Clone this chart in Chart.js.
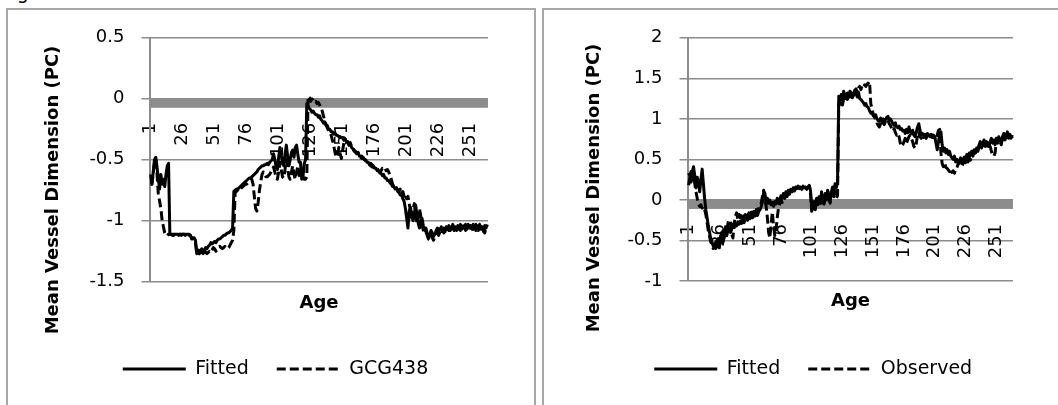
<!DOCTYPE html>
<html lang="en">
<head>
<meta charset="utf-8">
<title>Mean Vessel Dimension</title>
<script src="https://cdn.jsdelivr.net/npm/chart.js@4.4.1/dist/chart.umd.min.js"></script>
<style>
  html, body { margin: 0; padding: 0; background: #fff; }
  body { position: relative; width: 1058px; height: 405px; overflow: hidden; font-family: "DejaVu Sans", sans-serif; }
  .caption { position: absolute; left: 2px; top: -17px; font-size: 19px; line-height: 19px; color: #000; white-space: nowrap; }
  .panel { position: absolute; top: 8px; height: 430px; border: 2px solid #a8a8a8; box-sizing: border-box; }
  .chart-box { position: absolute; top: 10px; height: 395px; }
</style>
</head>
<body>
<div class="caption">Figure</div>
<div class="panel" style="left: 6px; width: 530px;"></div>
<div class="panel" style="left: 542px; width: 560px;"></div>
<div class="chart-box" style="left: 9px; width: 524px;"><canvas id="leftChart"></canvas></div>
<div class="chart-box" style="left: 545px; width: 513px;"><canvas id="rightChart"></canvas></div>
<script>
/* Ages on the category axis, and the ones that get a label. */
const ages = Array.from({ length: 264 }, (_, i) => i + 1)
const tickAges = [1, 26, 51, 76, 101, 126, 151, 176, 201, 226, 251]

/* Value ranges of the two panels. */
const leftRange = [-1.5, 0.5]
const rightRange = [-1, 2]

/* Left panel: fitted curve. */
const leftFitted = [
  -0.62, -0.70, -0.60, -0.50, -0.48, -0.56, -0.66, -0.74, -0.62, -0.70,
  -0.66, -0.72, -0.62, -0.55, -0.53, -1.11, -1.11, -1.11, -1.12, -1.11,
  -1.11, -1.11, -1.12, -1.11, -1.11, -1.11, -1.11, -1.12, -1.11, -1.11,
  -1.11, -1.12, -1.14, -1.15, -1.14, -1.16, -1.27, -1.24, -1.27, -1.25,
  -1.23, -1.27, -1.24, -1.22, -1.23, -1.21, -1.20, -1.18, -1.19, -1.18,
  -1.17, -1.18, -1.16, -1.15, -1.15, -1.14, -1.13, -1.12, -1.12, -1.11,
  -1.10, -1.10, -1.09, -1.08, -1.06, -0.76, -0.75, -0.74, -0.74, -0.73,
  -0.72, -0.71, -0.70, -0.69, -0.68, -0.67, -0.66, -0.65, -0.65, -0.64,
  -0.63, -0.62, -0.61, -0.60, -0.58, -0.57, -0.56, -0.55, -0.55, -0.54,
  -0.54, -0.53, -0.54, -0.52, -0.51, -0.50, -0.45, -0.50, -0.56, -0.58,
  -0.48, -0.40, -0.46, -0.52, -0.55, -0.45, -0.38, -0.47, -0.55, -0.50,
  -0.44, -0.42, -0.48, -0.40, -0.38, -0.46, -0.52, -0.52, -0.66, -0.64,
  -0.53, -0.50, -0.04, -0.06, -0.08, -0.09, -0.11, -0.10, -0.12, -0.13,
  -0.13, -0.15, -0.14, -0.17, -0.18, -0.20, -0.19, -0.22, -0.22, -0.25,
  -0.25, -0.27, -0.27, -0.29, -0.28, -0.30, -0.30, -0.31, -0.31, -0.32,
  -0.32, -0.34, -0.33, -0.35, -0.35, -0.38, -0.36, -0.40, -0.41, -0.43,
  -0.43, -0.45, -0.44, -0.47, -0.47, -0.49, -0.48, -0.50, -0.50, -0.52,
  -0.52, -0.54, -0.53, -0.56, -0.55, -0.57, -0.57, -0.59, -0.59, -0.61,
  -0.61, -0.63, -0.62, -0.65, -0.65, -0.67, -0.67, -0.69, -0.70, -0.72,
  -0.72, -0.74, -0.73, -0.76, -0.77, -0.79, -0.79, -0.82, -0.84, -0.90,
  -0.98, -1.06, -0.92, -0.89, -0.96, -1.00, -0.94, -0.87, -0.95, -1.02,
  -1.06, -1.00, -0.98, -1.04, -1.08, -1.06, -1.10, -1.14, -1.12, -1.08,
  -1.10, -1.13, -1.11, -1.08, -1.06, -1.09, -1.07, -1.05, -1.08, -1.06,
  -1.09, -1.05, -1.07, -1.04, -1.08, -1.06, -1.03, -1.07, -1.05, -1.08,
  -1.04, -1.06, -1.03, -1.07, -1.05, -1.04, -1.08, -1.05, -1.03, -1.06,
  -1.04, -1.07, -1.03, -1.05, -1.08, -1.04, -1.06, -1.03, -1.07, -1.05,
  -1.09, -1.04, -1.06, -1.03
]

/* Left panel: GCG438 series. */
const gcg438 = [
  -0.70, -0.70, -0.62, -0.52, -0.50, -0.62, -0.78, -0.84, -0.90, -1.00,
  -1.05, -1.10, -1.12, -1.12, -1.11, -1.11, -1.11, -1.12, -1.11, -1.11,
  -1.11, -1.12, -1.11, -1.11, -1.12, -1.11, -1.11, -1.11, -1.12, -1.11,
  -1.12, -1.12, -1.15, -1.14, -1.16, -1.18, -1.26, -1.25, -1.27, -1.24,
  -1.26, -1.27, -1.24, -1.26, -1.27, -1.26, -1.25, -1.26, -1.24, -1.22,
  -1.23, -1.25, -1.24, -1.22, -1.21, -1.22, -1.23, -1.22, -1.21, -1.22,
  -1.23, -1.22, -1.20, -1.18, -1.16, -1.08, -0.77, -0.76, -0.75, -0.76,
  -0.74, -0.73, -0.72, -0.71, -0.70, -0.70, -0.69, -0.68, -0.67, -0.66,
  -0.70, -0.80, -0.90, -0.92, -0.85, -0.75, -0.68, -0.62, -0.60, -0.62,
  -0.64, -0.64, -0.63, -0.62, -0.60, -0.58, -0.56, -0.60, -0.65, -0.66,
  -0.60, -0.52, -0.58, -0.64, -0.65, -0.58, -0.50, -0.57, -0.64, -0.66,
  -0.60, -0.55, -0.62, -0.66, -0.60, -0.55, -0.62, -0.66, -0.66, -0.64,
  -0.66, -0.66, -0.64, 0.02, 0.01, -0.02, 0.00, -0.01, -0.03, -0.02,
  -0.04, -0.03, -0.05, -0.07, -0.10, -0.14, -0.18, -0.21, -0.24, -0.26,
  -0.28, -0.30, -0.34, -0.38, -0.44, -0.48, -0.46, -0.40, -0.45, -0.49,
  -0.42, -0.36, -0.34, -0.35, -0.36, -0.38, -0.37, -0.39, -0.41, -0.42,
  -0.44, -0.45, -0.44, -0.46, -0.48, -0.47, -0.49, -0.50, -0.51, -0.52,
  -0.52, -0.54, -0.55, -0.54, -0.56, -0.57, -0.58, -0.57, -0.59, -0.60,
  -0.59, -0.57, -0.58, -0.57, -0.59, -0.58, -0.60, -0.63, -0.66, -0.70,
  -0.72, -0.74, -0.73, -0.75, -0.76, -0.74, -0.78, -0.76, -0.80, -0.78,
  -0.82, -0.80, -0.86, -0.92, -0.98, -0.90, -0.86, -0.94, -1.02, -0.98,
  -0.90, -0.96, -1.04, -1.08, -1.10, -1.09, -1.12, -1.15, -1.16, -1.12,
  -1.14, -1.16, -1.13, -1.12, -1.10, -1.12, -1.09, -1.11, -1.08, -1.10,
  -1.07, -1.09, -1.06, -1.08, -1.05, -1.07, -1.05, -1.08, -1.06, -1.04,
  -1.07, -1.05, -1.08, -1.04, -1.06, -1.05, -1.03, -1.07, -1.05, -1.04,
  -1.06, -1.04, -1.07, -1.05, -1.03, -1.06, -1.08, -1.04, -1.05, -1.07,
  -1.05, -1.10, -1.05, -1.04
]

/* Right panel: fitted curve. */
const rightFitted = [
  0.18, 0.28, 0.22, 0.35, 0.41, 0.30, 0.15, 0.28, 0.22, 0.10,
  0.25, 0.38, 0.20, 0.02, -0.12, -0.22, -0.32, -0.40, -0.48, -0.52,
  -0.57, -0.55, -0.60, -0.50, -0.56, -0.59, -0.45, -0.40, -0.52, -0.45,
  -0.38, -0.44, -0.37, -0.33, -0.40, -0.36, -0.30, -0.34, -0.29, -0.32,
  -0.27, -0.30, -0.26, -0.29, -0.25, -0.28, -0.24, -0.22, -0.25, -0.21,
  -0.23, -0.19, -0.22, -0.18, -0.20, -0.16, -0.19, -0.14, -0.12, -0.08,
  -0.02, 0.10, 0.08, -0.05, 0.02, -0.04, 0.00, -0.06, -0.03, -0.08,
  -0.02, -0.05, 0.02, -0.04, 0.00, 0.05, 0.02, 0.08, 0.04, 0.10,
  0.06, 0.12, 0.09, 0.13, 0.11, 0.15, 0.12, 0.16, 0.14, 0.17,
  0.15, 0.16, 0.14, 0.17, 0.15, 0.16, 0.14, 0.16, 0.18, 0.12,
  -0.12, -0.08, -0.02, -0.10, 0.02, -0.06, 0.04, -0.04, 0.10, 0.00,
  -0.05, 0.08, 0.02, 0.12, 0.04, -0.02, 0.10, 0.16, 0.08, 0.20,
  0.15, 0.22, 1.28, 1.20, 1.30, 1.24, 1.34, 1.28, 1.25, 1.32,
  1.27, 1.34, 1.30, 1.26, 1.29, 1.35, 1.31, 1.27, 1.33, 1.25,
  1.24, 1.22, 1.20, 1.17, 1.19, 1.15, 1.14, 1.10, 1.07, 1.08,
  1.04, 1.03, 1.05, 1.00, 0.98, 0.97, 1.01, 0.98, 1.00, 0.96,
  0.99, 1.02, 1.03, 0.98, 1.00, 0.97, 0.94, 0.92, 0.95, 0.90,
  0.89, 0.91, 0.87, 0.88, 0.85, 0.86, 0.82, 0.87, 0.83, 0.90,
  0.84, 0.82, 0.86, 0.80, 0.78, 0.84, 0.90, 0.94, 0.86, 0.80,
  0.82, 0.79, 0.81, 0.78, 0.82, 0.80, 0.78, 0.81, 0.79, 0.80,
  0.78, 0.70, 0.62, 0.72, 0.80, 0.84, 0.68, 0.60, 0.64, 0.58,
  0.62, 0.56, 0.60, 0.54, 0.52, 0.50, 0.54, 0.47, 0.50, 0.45,
  0.48, 0.52, 0.46, 0.50, 0.53, 0.49, 0.56, 0.52, 0.58, 0.55,
  0.60, 0.57, 0.62, 0.58, 0.64, 0.62, 0.68, 0.72, 0.66, 0.70,
  0.74, 0.68, 0.72, 0.70, 0.66, 0.72, 0.76, 0.70, 0.74, 0.68,
  0.76, 0.72, 0.78, 0.74, 0.70, 0.78, 0.82, 0.76, 0.80, 0.84,
  0.78, 0.81, 0.76, 0.80
]

/* Right panel: observed series. */
const observed = [
  0.33, 0.30, 0.35, 0.25, 0.32, 0.20, 0.10, 0.02, -0.05, -0.08,
  -0.06, -0.10, -0.08, -0.12, -0.18, -0.28, -0.38, -0.45, -0.52, -0.56,
  -0.60, -0.58, -0.52, -0.58, -0.48, -0.55, -0.42, -0.50, -0.38, -0.46,
  -0.33, -0.40, -0.28, -0.36, -0.25, -0.42, -0.47, -0.30, -0.20, -0.16,
  -0.24, -0.18, -0.22, -0.17, -0.24, -0.20, -0.18, -0.23, -0.19, -0.16,
  -0.21, -0.15, -0.18, -0.14, -0.17, -0.12, -0.15, -0.10, -0.08, -0.04,
  0.05, 0.12, 0.04, -0.08, -0.22, -0.40, -0.47, -0.30, -0.15, -0.32,
  -0.44, -0.38, -0.22, -0.10, -0.05, 0.00, -0.03, 0.05, 0.02, 0.08,
  0.04, 0.10, 0.07, 0.12, 0.10, 0.13, 0.11, 0.15, 0.13, 0.16,
  0.14, 0.15, 0.13, 0.16, 0.14, 0.15, 0.13, 0.15, 0.17, 0.10,
  -0.14, -0.10, -0.04, -0.12, 0.00, -0.08, 0.02, -0.06, 0.08, -0.02,
  -0.07, 0.06, 0.00, 0.10, 0.02, -0.04, 0.08, 0.12, 0.04, 0.10,
  0.02, 0.05, 1.20, 1.18, 1.22, 1.17, 1.25, 1.22, 1.28, 1.24,
  1.30, 1.27, 1.33, 1.30, 1.28, 1.35, 1.37, 1.33, 1.38, 1.40,
  1.36, 1.41, 1.39, 1.42, 1.40, 1.43, 1.44, 1.46, 1.19, 1.12,
  1.06, 1.02, 1.00, 0.95, 0.92, 0.90, 0.94, 0.91, 0.96, 0.93,
  0.97, 1.00, 0.98, 0.94, 0.92, 0.88, 0.85, 0.88, 0.83, 0.80,
  0.82, 0.78, 0.70, 0.66, 0.68, 0.72, 0.76, 0.70, 0.74, 0.78,
  0.80, 0.76, 0.72, 0.66, 0.64, 0.70, 0.80, 0.84, 0.78, 0.76,
  0.80, 0.77, 0.79, 0.76, 0.80, 0.78, 0.76, 0.79, 0.77, 0.78,
  0.76, 0.74, 0.80, 0.86, 0.87, 0.58, 0.45, 0.41, 0.46, 0.40,
  0.39, 0.37, 0.35, 0.38, 0.34, 0.36, 0.33, 0.37, 0.40, 0.44,
  0.47, 0.43, 0.41, 0.45, 0.48, 0.46, 0.50, 0.47, 0.52, 0.49,
  0.56, 0.54, 0.60, 0.58, 0.62, 0.60, 0.66, 0.70, 0.64, 0.68,
  0.72, 0.66, 0.70, 0.68, 0.62, 0.66, 0.60, 0.55, 0.54, 0.58,
  0.72, 0.70, 0.76, 0.72, 0.68, 0.76, 0.80, 0.74, 0.78, 0.82,
  0.76, 0.79, 0.74, 0.78
]

Chart.defaults.font.family = '"DejaVu Sans", sans-serif'
Chart.defaults.color = '#000'

const gridGrey = '#8c8c8c'
const lineWidth = 3
const dash = [9, 4]

/* Thick grey band hanging under the zero line, drawn before the series. */
const zeroBand = {
  id: 'zeroBand',
  beforeDatasetsDraw(chart) {
    const { ctx, chartArea, scales } = chart
    const y0 = scales.y.getPixelForValue(0)
    ctx.save()
    ctx.fillStyle = gridGrey
    ctx.fillRect(chartArea.left, y0, chartArea.right - chartArea.left, 9)
    ctx.restore()
  }
}

/* Vertical axis title, centred on the whole panel rather than the plot. */
const sideTitle = {
  id: 'sideTitle',
  afterDraw(chart, args, opts) {
    const { ctx } = chart
    ctx.save()
    ctx.translate(opts.x, opts.y)
    ctx.rotate(-Math.PI / 2)
    ctx.font = 'bold 18px "DejaVu Sans"'
    ctx.fillStyle = '#000'
    ctx.textAlign = 'center'
    ctx.textBaseline = 'middle'
    ctx.fillText(opts.text, 0, 0)
    ctx.restore()
  }
}

/* Legend entries drawn as short line samples, keeping each dataset's dash. */
const lineLabels = chart =>
  Chart.defaults.plugins.legend.labels.generateLabels(chart).map((item, i) => ({
    ...item,
    lineDash: chart.data.datasets[i].borderDash,
    lineWidth: chart.data.datasets[i].borderWidth
  }))

/* Build one panel: solid fitted line plus a dashed comparison line. */
const lineChart = ({ canvas, series, names, range, box }) => {
  const datasets = series.map((data, i) => ({
    label: names[i],
    data,
    borderColor: '#000',
    backgroundColor: '#000',
    borderWidth: lineWidth,
    borderDash: i === 0 ? [] : dash,
    borderJoinStyle: 'round',
    pointRadius: 0,
    tension: 0,
    xAxisID: 'x',
    yAxisID: 'y'
  }))

  return new Chart(document.getElementById(canvas), {
    type: 'line',
    data: { labels: ages, datasets },
    plugins: [zeroBand, sideTitle],
    options: {
      responsive: true,
      maintainAspectRatio: false,
      animation: false,
      events: [],
      layout: { padding: box.padding },
      scales: {
        x: {
          type: 'category',
          position: { y: 0 },
          offset: true,
          grid: { display: false, drawTicks: false },
          border: { display: false },
          ticks: {
            autoSkip: false,
            minRotation: 90,
            maxRotation: 90,
            padding: 24,
            font: { size: 18 },
            callback: (value, index) => tickAges.includes(ages[index]) ? String(ages[index]) : ''
          }
        },
        /* Only carries the "Age" title below the plot. */
        x2: {
          type: 'category',
          position: 'bottom',
          grid: { display: false, drawTicks: false },
          border: { display: false },
          ticks: { display: false },
          title: {
            display: true,
            text: 'Age',
            font: { size: 18, weight: 'bold' },
            padding: { top: 0, bottom: box.agePad }
          },
          afterFit: scale => { scale.height = box.ageHeight }
        },
        y: {
          min: range[0],
          max: range[1],
          ticks: {
            stepSize: 0.5,
            padding: 17,
            font: { size: 18 },
            callback: value => String(Math.round(value * 10) / 10)
          },
          grid: { color: gridGrey, lineWidth: 1.5, tickLength: 8.5 },
          border: { color: gridGrey, width: 2 },
          afterFit: scale => { scale.width = box.axisWidth }
        }
      },
      plugins: {
        legend: {
          position: 'bottom',
          labels: {
            usePointStyle: true,
            pointStyle: 'line',
            pointStyleWidth: 63,
            padding: 28,
            font: { size: 19 },
            generateLabels: lineLabels
          }
        },
        tooltip: { enabled: false },
        sideTitle: { text: 'Mean Vessel Dimension (PC)', x: box.titleX, y: box.titleY }
      }
    }
  })
}

lineChart({
  canvas: 'leftChart',
  series: [leftFitted, gcg438],
  names: ['Fitted', 'GCG438'],
  range: leftRange,
  box: {
    padding: { top: 25, left: 33, right: 24, bottom: 16.5 },
    axisWidth: 108,
    ageHeight: 49.8,
    agePad: 17.4,
    titleX: 44.5,
    titleY: 180
  }
})

lineChart({
  canvas: 'rightChart',
  series: [rightFitted, observed],
  names: ['Fitted', 'Observed'],
  range: rightRange,
  box: {
    padding: { top: 27.3, left: 35.4, right: 12, bottom: 16.5 },
    axisWidth: 107.6,
    ageHeight: 50.5,
    agePad: 19,
    titleX: 48.9,
    titleY: 178
  }
})
</script>
</body>
</html>
